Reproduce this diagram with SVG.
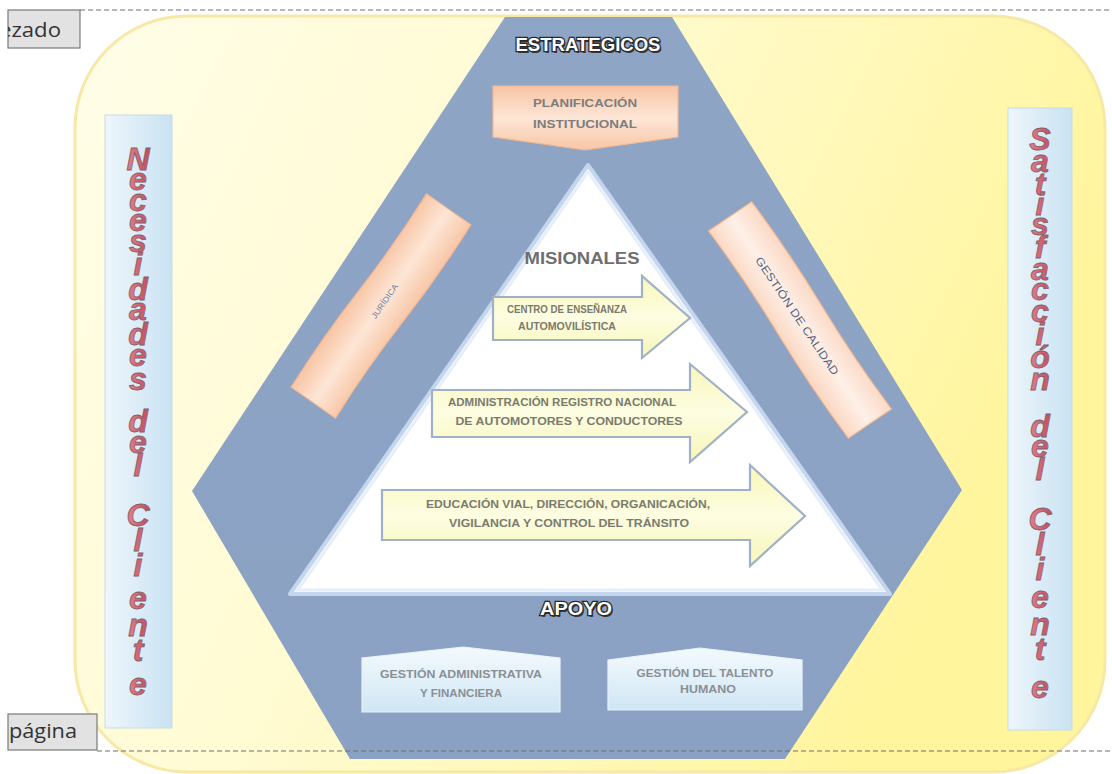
<svg xmlns="http://www.w3.org/2000/svg" width="1112" height="774" viewBox="0 0 1112 774">
<defs>
<linearGradient id="gYellow" x1="0" y1="0" x2="1" y2="0.35">
<stop offset="0" stop-color="#fffde8"/>
<stop offset="0.45" stop-color="#fffbd2"/>
<stop offset="1" stop-color="#fff59c"/>
</linearGradient>
<linearGradient id="gHex" x1="0" y1="0" x2="0" y2="1">
<stop offset="0" stop-color="#8ea5c6"/>
<stop offset="1" stop-color="#8aa1c3"/>
</linearGradient>
<linearGradient id="gPeach" x1="0" y1="0" x2="0" y2="1">
<stop offset="0" stop-color="#f8c4a4"/>
<stop offset="0.5" stop-color="#fde6d6"/>
<stop offset="1" stop-color="#f8c6a6"/>
</linearGradient>
<linearGradient id="gPeach2" x1="0" y1="0" x2="0" y2="1">
<stop offset="0" stop-color="#fbd8c4"/>
<stop offset="0.5" stop-color="#fef0e8"/>
<stop offset="1" stop-color="#fbd6c0"/>
</linearGradient>
<linearGradient id="gArrow" x1="0" y1="0" x2="0" y2="1">
<stop offset="0" stop-color="#f8f7b8"/>
<stop offset="0.5" stop-color="#fdfde2"/>
<stop offset="1" stop-color="#f7f6b6"/>
</linearGradient>
<linearGradient id="gBlueBox" x1="0" y1="0" x2="0" y2="1">
<stop offset="0" stop-color="#f4fafd"/>
<stop offset="1" stop-color="#cfe6f4"/>
</linearGradient>
<linearGradient id="gSide" x1="0" y1="0" x2="1" y2="0">
<stop offset="0" stop-color="#eef6fb"/>
<stop offset="1" stop-color="#c9e2f2"/>
</linearGradient>
<linearGradient id="gLetters" x1="0" y1="0" x2="1" y2="0">
<stop offset="0" stop-color="#e8808e"/>
<stop offset="1" stop-color="#c04a5a"/>
</linearGradient>
<clipPath id="cpTab"><rect x="8" y="10" width="72" height="38"/></clipPath>
<clipPath id="cpTab2"><rect x="8" y="714" width="89" height="36"/></clipPath>
</defs>
<style>
.lbl{font-family:"Liberation Sans",Arial,sans-serif;font-weight:bold;text-anchor:middle;}
.arrowtxt{fill:#7a7b6e;font-size:10px;}
.boxtxt{fill:#7d7d7d;font-size:10px;}
.bluetxt{fill:#8a8f96;font-size:10px;}
.outline{fill:#ffffff;stroke:#2a2a2a;stroke-width:2.6px;paint-order:stroke;font-size:19px;font-family:"Liberation Sans",Arial,sans-serif;font-weight:bold;text-anchor:middle;}
.shadow{fill:#3a3a3a;font-size:19px;font-family:"Liberation Sans",Arial,sans-serif;font-weight:bold;text-anchor:middle;}
.arrow{fill:url(#gArrow);stroke:#9fb0c8;stroke-width:2.2;}
.peach{stroke:#f3b892;stroke-width:1.2;}
.blue{fill:url(#gBlueBox);stroke:#e8f2fa;stroke-width:1.2;}
.vert{font-family:"Liberation Sans",Arial,sans-serif;font-style:italic;font-weight:bold;font-size:32px;text-anchor:middle;fill:url(#gLetters);stroke:#806068;stroke-width:0.8px;}
.tab{fill:#e2e2e2;stroke:#7a7a7a;stroke-width:1.2;}
.tabtxt{font-family:"Open Sans","DejaVu Sans",sans-serif;font-size:20px;fill:#333333;}
.dash{stroke:#6e6e6e;stroke-width:1.2;stroke-dasharray:5 3;fill:none;}
</style>
<rect x="0" y="0" width="1112" height="774" fill="#ffffff"/>
<g id="background">
<rect x="75" y="16" width="1030" height="756" rx="112" ry="112" fill="url(#gYellow)" stroke="#f7e8a6" stroke-width="3"/>
</g>
<g id="hexagon">
<path d="M505,17 L672,17 L962,490 L785,759 L350,759 L192,491 Z" fill="url(#gHex)"/>
</g>
<g id="triangle">
<path d="M588,165 L890,594 L290,594 Z" fill="#ffffff" stroke="#c4d5ee" stroke-width="4" stroke-linejoin="round"/>
<path d="M588,172 L882,590 L298,590 Z" fill="none" stroke="#e6eefa" stroke-width="3"/>
</g>
<g id="label-estrategicos">
<text class="shadow" x="589.5" y="52.5" textLength="145" lengthAdjust="spacingAndGlyphs">ESTRATEGICOS</text>
<text class="outline" x="588" y="51" textLength="145" lengthAdjust="spacingAndGlyphs">ESTRATEGICOS</text>
</g>
<g id="node-planificacion">
<path d="M493,86 L678,86 L678,137 L585,150 L493,137 Z" fill="url(#gPeach)" class="peach"/>
<text class="lbl boxtxt" x="585" y="107" textLength="104" lengthAdjust="spacingAndGlyphs">PLANIFICACIÓN</text>
<text class="lbl boxtxt" x="585" y="128" textLength="104" lengthAdjust="spacingAndGlyphs">INSTITUCIONAL</text>
</g>
<g id="node-juridica" transform="translate(381,306) rotate(-55)">
<path d="M-118,-27 Q-59,-30 0,-27 T118,-27 L118,27 Q59,30 0,27 T-118,27 Z" fill="url(#gPeach)" class="peach"/>
<text class="lbl" x="6" y="3" style="fill:#6f80a4;font-size:8px;font-weight:normal" textLength="40" lengthAdjust="spacingAndGlyphs">JURÍDICA</text>
</g>
<g id="node-calidad" transform="translate(800,320) rotate(56)">
<path d="M-125,-26 Q-62,-29 0,-26 T125,-26 L125,26 Q62,29 0,26 T-125,26 Z" fill="url(#gPeach2)" class="peach"/>
<text class="lbl" x="-5" y="4" style="fill:#55647e;font-size:11px;font-weight:normal" textLength="140" lengthAdjust="spacingAndGlyphs">GESTIÓN DE CALIDAD</text>
</g>
<g id="label-misionales">
<text class="lbl" x="582" y="264" style="fill:#6e6e6e;font-size:17px" textLength="115" lengthAdjust="spacingAndGlyphs">MISIONALES</text>
</g>
<g id="node-centro">
<path class="arrow" d="M493,297 L642,297 L642,276 L690,318 L642,358 L642,340 L493,340 Z"/>
<text class="lbl arrowtxt" x="567" y="313" textLength="120" lengthAdjust="spacingAndGlyphs">CENTRO DE ENSEÑANZA</text>
<text class="lbl arrowtxt" x="567" y="330" textLength="98" lengthAdjust="spacingAndGlyphs">AUTOMOVILÍSTICA</text>
</g>
<g id="node-registro">
<path class="arrow" d="M432,390 L690,390 L690,364 L747,412 L690,462 L690,437 L432,437 Z"/>
<text class="lbl arrowtxt" x="562" y="406" textLength="228" lengthAdjust="spacingAndGlyphs">ADMINISTRACIÓN REGISTRO NACIONAL</text>
<text class="lbl arrowtxt" x="569" y="425" textLength="227" lengthAdjust="spacingAndGlyphs">DE AUTOMOTORES  Y CONDUCTORES</text>
</g>
<g id="node-educacion">
<path class="arrow" d="M382,490 L750,490 L750,465 L805,516 L750,566 L750,540 L382,540 Z"/>
<text class="lbl arrowtxt" x="568" y="508" textLength="284" lengthAdjust="spacingAndGlyphs">EDUCACIÓN VIAL, DIRECCIÓN, ORGANICACIÓN,</text>
<text class="lbl arrowtxt" x="569" y="527" textLength="240" lengthAdjust="spacingAndGlyphs">VIGILANCIA Y CONTROL DEL TRÁNSITO</text>
</g>
<g id="label-apoyo">
<text class="shadow" x="577.5" y="616.5" textLength="72" lengthAdjust="spacingAndGlyphs">APOYO</text>
<text class="outline" x="576" y="615" textLength="72" lengthAdjust="spacingAndGlyphs">APOYO</text>
</g>
<g id="node-administrativa">
<path class="blue" d="M362,712 L362,658 L463,647 L560,658 L560,712 Z"/>
<text class="lbl bluetxt" x="461" y="678" textLength="162" lengthAdjust="spacingAndGlyphs">GESTIÓN ADMINISTRATIVA</text>
<text class="lbl bluetxt" x="461" y="697" textLength="82" lengthAdjust="spacingAndGlyphs">Y FINANCIERA</text>
</g>
<g id="node-talento">
<path class="blue" d="M608,710 L608,660 L700,648 L802,660 L802,710 Z"/>
<text class="lbl bluetxt" x="705" y="677" textLength="137" lengthAdjust="spacingAndGlyphs">GESTIÓN DEL TALENTO</text>
<text class="lbl bluetxt" x="708" y="693" textLength="56" lengthAdjust="spacingAndGlyphs">HUMANO</text>
</g>
<g id="node-necesidades">
<rect x="105" y="115" width="67" height="613" fill="url(#gSide)" stroke="#c6dbe8" stroke-width="1"/>
<text class="vert" x="138 138 138 138 138 138 138 138 138 138 138 138 138 138 138 138 138 138 138 138 138 138 138" y="170 190 211 231 252 275 300 320 345 366 390 411 432 453 476 500 526 551 576 609 636 661 695">Necesidades del Cliente</text>
</g>
<g id="node-satisfaccion">
<rect x="1008" y="108" width="64" height="622" fill="url(#gSide)" stroke="#c6dbe8" stroke-width="1"/>
<text class="vert" x="1040 1040 1040 1040 1040 1040 1040 1040 1040 1040 1040 1040 1040 1040 1040 1040 1040 1040 1040 1040 1040 1040 1040 1040" y="150 172 195 215 235 258 280 300 322 345 368 390 414 437 457 480 505 530 555 580 608 635 660 698">Satisfacción del Cliente</text>
</g>
<g id="page-marks">
<line class="dash" x1="80" y1="10" x2="1112" y2="10"/>
<line class="dash" x1="97" y1="751" x2="1112" y2="751"/>
<rect class="tab" x="8" y="10" width="72" height="38"/>
<text class="tabtxt" x="-1" y="37" clip-path="url(#cpTab)" textLength="62" lengthAdjust="spacingAndGlyphs">ezado</text>
<rect class="tab" x="8" y="714" width="89" height="36"/>
<text class="tabtxt" x="9" y="738" clip-path="url(#cpTab2)" textLength="68" lengthAdjust="spacingAndGlyphs">página</text>
</g>
</svg>
